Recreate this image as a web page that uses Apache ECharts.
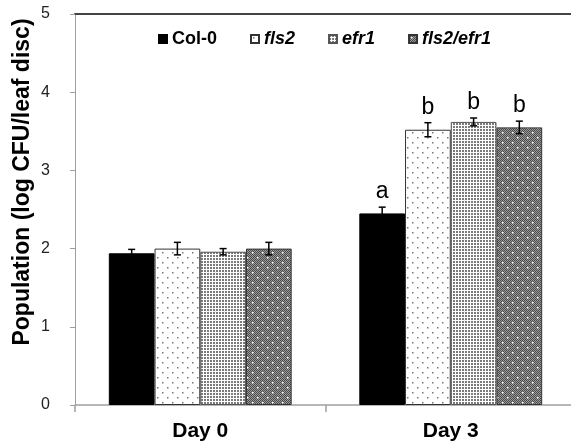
<!DOCTYPE html>
<html>
<head>
<meta charset="utf-8">
<script src="https://cdn.jsdelivr.net/npm/echarts@6/dist/echarts.min.js"></script>
<style>
html,body{margin:0;padding:0;background:#fff;}
#chart{width:571px;height:444px;}
</style>
</head>
<body>
<div id="chart"></div>
<script>
// ---- data ----
const categories = ['Day 0', 'Day 3'];
const seriesNames = ['Col-0', 'fls2', 'efr1', 'fls2/efr1'];
const col0 = [1.94, 2.45];
const col0Err = [0.05, 0.08];
const fls2 = [2.00, 3.52];
const fls2Err = [0.08, 0.09];
const efr1 = [1.96, 3.62];
const efr1Err = [0.04, 0.05];
const fls2efr1 = [2.00, 3.55];
const fls2efr1Err = [0.08, 0.08];
const col0Letters = ['', 'a'];
const fls2Letters = ['', 'b'];
const efr1Letters = ['', 'b'];
const fls2efr1Letters = ['', 'b'];
const yTicks = [0, 1, 2, 3, 4, 5];
const yTitle = 'Population (log CFU/leaf disc)';

// ---- patterns ----
function makePattern(w, h, draw) {
  const c = document.createElement('canvas');
  c.width = w; c.height = h;
  const ctx = c.getContext('2d');
  draw(ctx);
  return { image: c, repeat: 'repeat' };
}
const patFls2 = makePattern(10, 10, ctx => {
  ctx.fillStyle = '#fff'; ctx.fillRect(0, 0, 10, 10);
  ctx.fillStyle = '#777';
  ctx.fillRect(2, 2, 1.5, 1.5);
  ctx.fillRect(7, 7, 1.5, 1.5);
});
const patEfr1 = makePattern(3, 3, ctx => {
  ctx.fillStyle = '#fff'; ctx.fillRect(0, 0, 3, 3);
  ctx.fillStyle = '#7a7a7a';
  ctx.fillRect(0, 0, 2, 2);
});
const patDouble = makePattern(10, 10, ctx => {
  for (let y = 0; y < 10; y++) for (let x = 0; x < 10; x++) {
    ctx.fillStyle = ((x + y) % 2 === 0) ? '#4a4a4a' : '#9a9a9a';
    ctx.fillRect(x, y, 1, 1);
  }
  ctx.fillStyle = '#ffffff';
  ctx.fillRect(2, 2, 1.5, 1.5);
  ctx.fillRect(7, 7, 1.5, 1.5);
});

const GAP = 0.27;
const values = [col0, fls2, efr1, fls2efr1];
const errs = [col0Err, fls2Err, efr1Err, fls2efr1Err];
const letters = [col0Letters, fls2Letters, efr1Letters, fls2efr1Letters];
const fills = ['#000000', patFls2, patEfr1, patDouble];
const borders = ['#000000', '#333333', '#555555', '#333333'];

const errData = [];
const errLetters = [];
for (let s = 0; s < 4; s++) {
  for (let c = 0; c < categories.length; c++) {
    errData.push([c, s, values[s][c], errs[s][c]]);
    errLetters.push(letters[s][c]);
  }
}

const barSeries = seriesNames.map((n, i) => ({
  name: n,
  type: 'bar',
  data: values[i],
  barGap: '0%',
  barCategoryGap: (GAP * 100) + '%',
  itemStyle: { color: fills[i], borderColor: borders[i], borderWidth: 1 },
  emphasis: { disabled: true },
  animation: false
}));

const errSeries = {
  type: 'custom',
  data: errData,
  encode: { x: 0, y: 2 },
  z: 10,
  silent: true,
  animation: false,
  renderItem: function (params, api) {
    const cat = api.value(0), si = api.value(1), v = api.value(2), e = api.value(3);
    const band = api.size([1, 0])[0];
    const gw = band * (1 - GAP);
    const bw = gw / 4;
    const base = api.coord([cat, 0]);
    const x = base[0] - gw / 2 + bw * (si + 0.5);
    const yT = api.coord([cat, v + e])[1];
    const yB = api.coord([cat, v - e])[1];
    const cap = 3.5;
    const st = { stroke: '#000', lineWidth: 1.5, fill: null };
    const children = [
      { type: 'line', shape: { x1: x, y1: yT, x2: x, y2: yB }, style: st },
      { type: 'line', shape: { x1: x - cap, y1: yT, x2: x + cap, y2: yT }, style: st },
      { type: 'line', shape: { x1: x - cap, y1: yB, x2: x + cap, y2: yB }, style: st }
    ];
    const L = errLetters[params.dataIndex];
    if (L) {
      children.push({
        type: 'text',
        style: {
          text: L, x: x, y: yT - 4, align: 'center', verticalAlign: 'bottom',
          font: '23px "Liberation Sans", Arial, sans-serif', fill: '#000'
        }
      });
    }
    return { type: 'group', children: children };
  }
};

const chart = echarts.init(document.getElementById('chart'));
chart.setOption({
  backgroundColor: '#fff',
  animation: false,
  grid: { left: 75, right: -5, top: 14, bottom: 39, outerBoundsMode: 'none', containLabel: false },
  legend: {
    left: 158, top: 30, padding: 0,
    itemWidth: 8, itemHeight: 8, itemGap: 33,
    icon: 'rect',
    selectedMode: false,
    textStyle: { fontFamily: '"Liberation Sans", Arial, sans-serif', fontWeight: 'bold', fontSize: 18, color: '#000' },
    data: [
      { name: 'Col-0' },
      { name: 'fls2', textStyle: { fontStyle: 'italic' } },
      { name: 'efr1', textStyle: { fontStyle: 'italic' } },
      { name: 'fls2/efr1', textStyle: { fontStyle: 'italic' } }
    ]
  },
  xAxis: [{
    type: 'category',
    data: categories,
    axisLine: { lineStyle: { color: '#a0a0a0', width: 1.5 } },
    axisTick: { show: true, length: 7, lineStyle: { color: '#a0a0a0', width: 1.5 } },
    axisLabel: { margin: 16, fontFamily: '"Liberation Sans", Arial, sans-serif', fontWeight: 'bold', fontSize: 21, color: '#000' }
  }, {
    type: 'category',
    data: categories,
    position: 'top',
    axisLine: { lineStyle: { color: '#444', width: 2 } },
    axisTick: { show: false },
    axisLabel: { show: false }
  }],
  yAxis: {
    type: 'value',
    min: yTicks[0], max: yTicks[yTicks.length - 1], interval: 1,
    axisLine: { show: true, lineStyle: { color: '#a0a0a0', width: 1 } },
    axisTick: { show: true, length: 5, lineStyle: { color: '#a0a0a0' } },
    splitLine: { show: false },
    axisLabel: { margin: 25, fontFamily: '"Liberation Sans", Arial, sans-serif', fontSize: 16, color: '#222' }
  },
  graphic: [{
    type: 'text',
    x: 23, y: 182,
    rotation: Math.PI / 2,
    style: {
      text: yTitle, align: 'center', verticalAlign: 'middle',
      font: 'bold 23px "Liberation Sans", Arial, sans-serif', fill: '#000'
    }
  }],
  series: barSeries.concat([errSeries])
});
</script>
</body>
</html>
